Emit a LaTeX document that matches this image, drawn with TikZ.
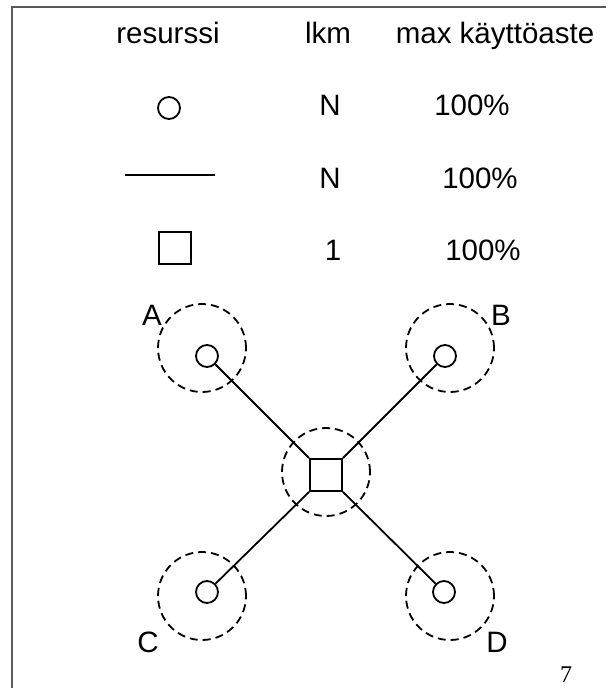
\documentclass[tikz,border=0pt]{standalone}
\usepackage{fontspec}
\setmainfont{Liberation Sans}
\newfontfamily\pagefont{Liberation Serif}
\usepackage{tikz}
\tikzstyle{scheme}=[x=1pt, y=-1pt, line width=1.8pt, font=\fontsize{29.5}{34}\selectfont]
\tikzstyle{lbl}=[anchor=base, inner sep=0pt]
\tikzstyle{res}=[circle, draw, fill=white, inner sep=0pt, minimum size=22pt]
\tikzstyle{srv}=[rectangle, draw, fill=white, inner sep=0pt, minimum size=32pt]
\tikzstyle{zone}=[circle, draw, dash pattern=on 8pt off 5pt, inner sep=0pt, minimum size=88pt]
\tikzstyle{link}=[-, line width=1.8pt]
\tikzstyle{frame}=[draw=black!65, line width=1.8pt]

\begin{document}
\begin{tikzpicture}[scheme]
	\useasboundingbox (0,0) rectangle (606,688);
	%The page frame
	\draw[frame] (12,688) -- (12,7) -- (606,7);
	
	%The table header
	\draw (168,43) node[lbl] (hres) {resurssi};
	\draw (328,43) node[lbl] (hlkm) {lkm};
	\draw (495,43) node[lbl] (hmax) {max käyttöaste};
	
	%The table rows
	\draw (169,108) node[res] (kres) {};
	\draw (330,115) node[lbl] (kn1) {N};
	\draw (472,115) node[lbl] (kp1) {100\%};
	
	\coordinate (l1) at (125,175);
	\coordinate (l2) at (215,175);
	\draw[link] (l1) -- (l2);
	\draw (330,188) node[lbl] (kn2) {N};
	\draw (480,188) node[lbl] (kp2) {100\%};
	
	\draw (175,248) node[srv] (ksrv) {};
	\draw (333,260) node[lbl] (kn3) {1};
	\draw (483,260) node[lbl] (kp3) {100\%};
	
	%The dashed zones
	\draw (202,348) node[zone] (za) {};
	\draw (450,348) node[zone] (zb) {};
	\draw (202,596) node[zone] (zc) {};
	\draw (450,596) node[zone] (zd) {};
	\draw (326,472) node[zone] (zh) {};
	
	%The graph
	\draw (326,475) node[srv] (hub) {};
	\draw (207,356) node[res] (a) {};
	\draw (445,356) node[res] (b) {};
	\draw (207,592) node[res] (c) {};
	\draw (444,592) node[res] (d) {};
	
	\draw[link] (a) -- (hub.north west);
	\draw[link] (b) -- (hub.north east);
	\draw[link] (c) -- (hub.south west);
	\draw[link] (d) -- (hub.south east);
	
	%The names
	\draw (152,325) node[lbl] (la) {A};
	\draw (501,325) node[lbl] (lb) {B};
	\draw (148,652) node[lbl] (lc) {C};
	\draw (497,652) node[lbl] (ld) {D};
	
	%The page number
	\draw (566,682) node[lbl, font=\pagefont\fontsize{24}{28}\selectfont] (pg) {7};
\end{tikzpicture}
\end{document}
